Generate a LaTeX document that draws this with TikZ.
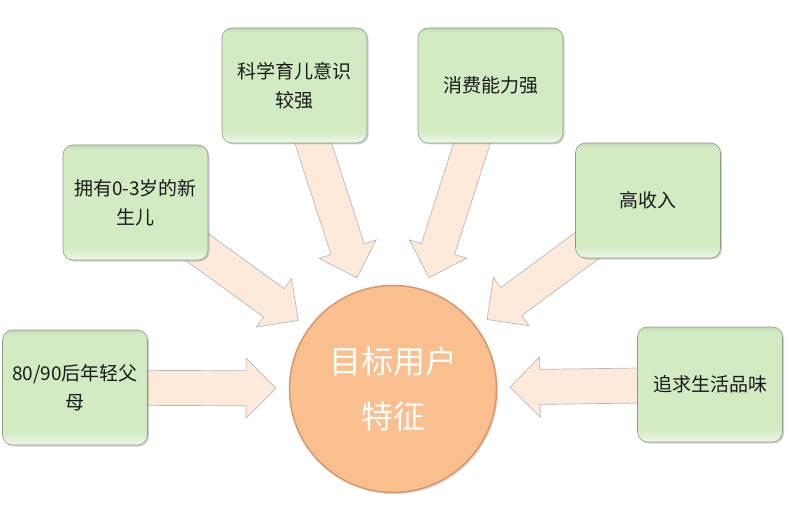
\documentclass[tikz,border=0pt]{standalone}
\usepackage{fontspec}
\setmainfont{Noto Sans CJK SC}
\usepackage{xcolor}
\usetikzlibrary{calc,backgrounds,shadows}

\definecolor{boxgreen}{HTML}{D3EBC3}
\definecolor{boxedge}{HTML}{8E9C86}
\definecolor{peach}{HTML}{FABF8F}
\definecolor{peachedge}{HTML}{D9976A}
\definecolor{arrowfill}{HTML}{FDEADA}

% bevelled look: light strip along the bottom edge
\pgfdeclareverticalshading{bevelgreen}{100bp}{color(0bp)=(white);
  color(25bp)=(boxgreen!35!white); color(28.5bp)=(boxgreen!80!white);
  color(31bp)=(boxgreen); color(73bp)=(boxgreen); color(75bp)=(boxgreen!92!black);
  color(100bp)=(boxgreen!92!black)}

% block arrow from a box to the circle, tip kept off the rim
\newcommand{\fatarrow}[2]{%
  \coordinate (tp) at ($(#2)!117pt!(#1)$);
  \coordinate (hb) at ($(#2)!147pt!(#1)$);
  \draw[arrowbody] ($(#1)!17.5pt!90:(#2)$) -- ($(hb)!17.5pt!90:(#2)$)
    -- ($(hb)!30pt!90:(#2)$) -- (tp) -- ($(hb)!30pt!-90:(#2)$)
    -- ($(hb)!17.5pt!-90:(#2)$) -- ($(#1)!17.5pt!-90:(#2)$) -- cycle;
}

\tikzset{
  feature/.style={rectangle, rounded corners=10pt, shading=bevelgreen, draw=boxedge,
    line width=0.6pt, minimum width=145pt, minimum height=115pt, align=center,
    font=\fontsize{19}{29}\selectfont, text=black!90,
    drop shadow={opacity=0.35, shadow xshift=1.5pt, shadow yshift=-1.5pt}},
  target/.style={circle, fill=peach, draw=peachedge, line width=1.5pt,
    minimum size=207pt, align=center, text=white,
    font=\fontsize{32}{55}\selectfont,
    drop shadow={opacity=0.3, shadow xshift=1.5pt, shadow yshift=-1.5pt}},
  arrowbody/.style={fill=arrowfill, draw=gray!55, line width=0.7pt, line join=miter}
}

\begin{document}
\begin{tikzpicture}[x=1pt, y=-1pt]
  \useasboundingbox (0,0) rectangle (786,521);

  % Centre
  \node[target] (c) at (393,389) {目标用户\\特征};

  % Feature boxes
  \node[feature] (b1) at (75,387.5) {80/90后年轻父\\母};
  \node[feature] (b2) at (135.5,202.5) {拥有0-3岁的新\\生儿};
  \node[feature] (b3) at (294.5,85.5) {科学育儿意识\\较强};
  \node[feature] (b4) at (490.5,85.5) {消费能力强};
  \node[feature] (b5) at (648,200.5) {高收入};
  \node[feature] (b6) at (710,384.5) {追求生活品味};

  % Arrows (behind the boxes)
  \begin{scope}[on background layer]
    \foreach \i in {1,...,6}{
      \fatarrow{b\i}{c}
    }
  \end{scope}
\end{tikzpicture}
\end{document}
